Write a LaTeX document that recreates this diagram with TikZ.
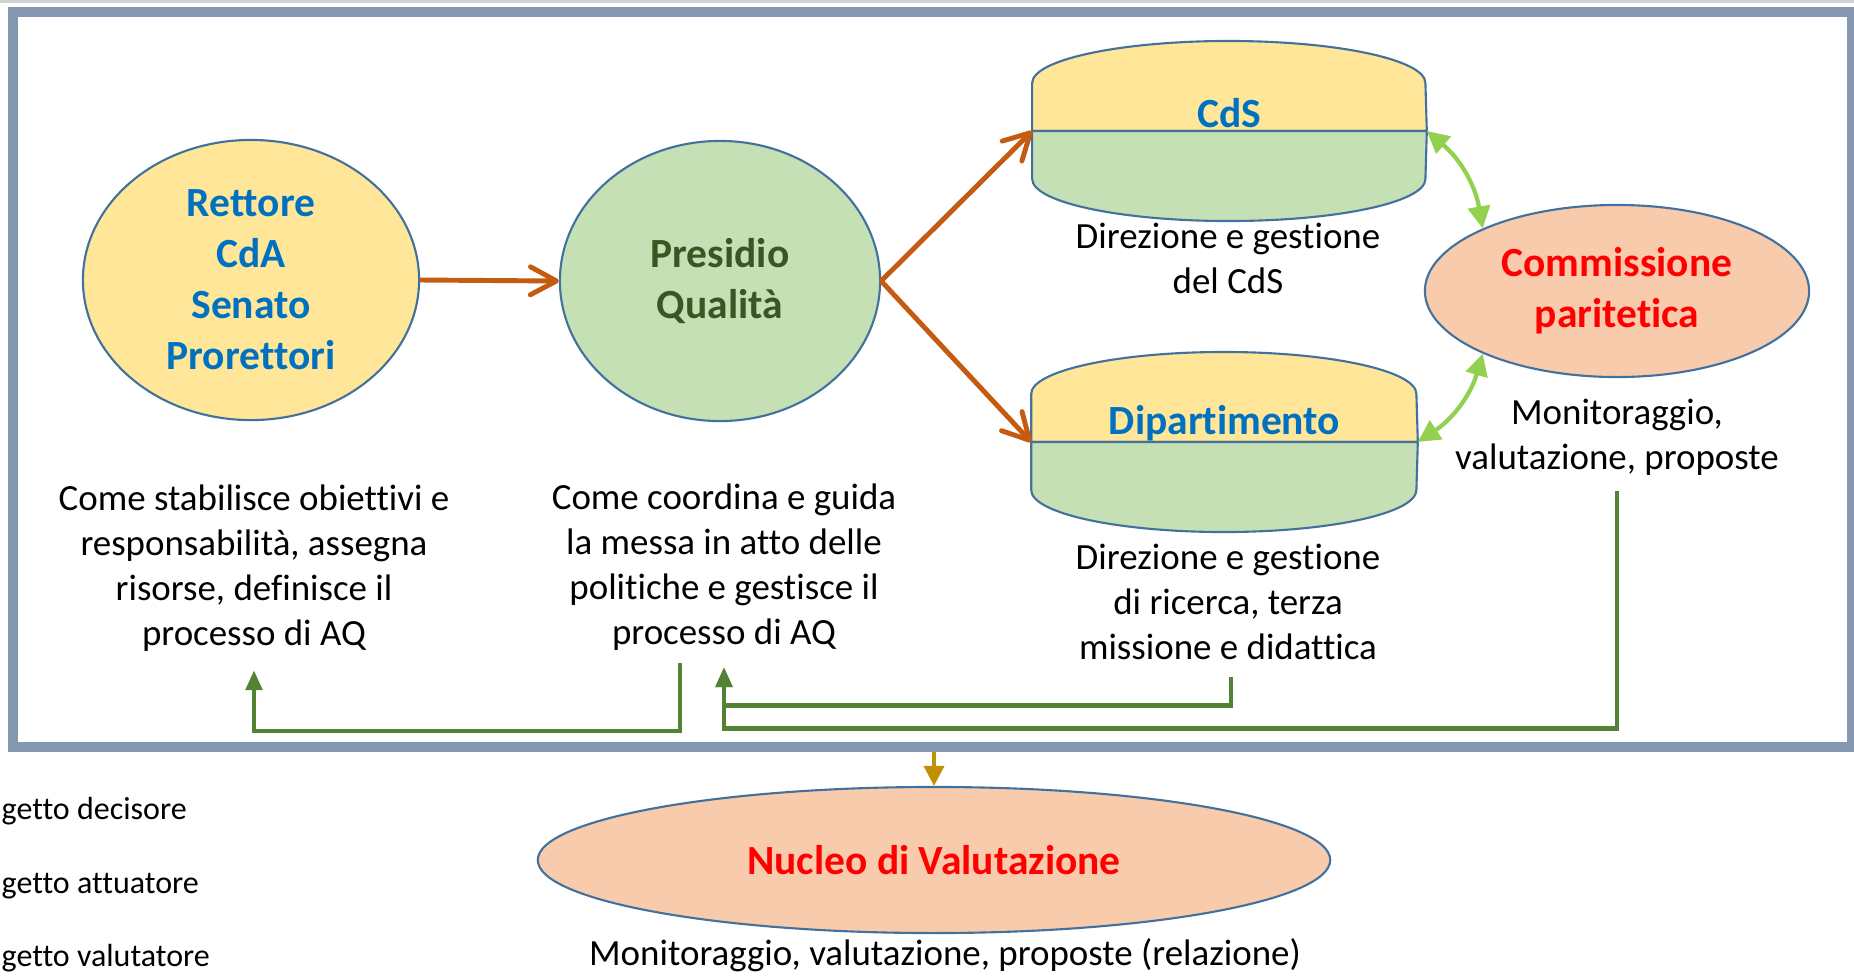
\documentclass[tikz,border=0pt]{standalone}
\usepackage{fontspec}
\setmainfont[Ligatures=NoCommon]{Carlito}
\usepackage{tikz}
\usetikzlibrary{arrows.meta,positioning,shapes.geometric}
\definecolor{frameblue}{HTML}{8497B0}
\definecolor{yellowfill}{HTML}{FFE699}
\definecolor{greenfill}{HTML}{C5E0B4}
\definecolor{peachfill}{HTML}{F8CBAD}
\definecolor{rim}{HTML}{41719C}
\definecolor{inkblue}{HTML}{0070C0}
\definecolor{inkgreen}{HTML}{385723}
\definecolor{inkred}{HTML}{FF0000}
\definecolor{rust}{HTML}{C55A11}
\definecolor{leaf}{HTML}{92D050}
\definecolor{moss}{HTML}{548235}
\definecolor{ochre}{HTML}{BF9000}

\begin{document}
\begin{tikzpicture}[x=0.01cm, y=-0.01cm, every node/.style={font=\fontsize{10.5}{12.8}\selectfont, inner sep=0pt}, blob/.style={ellipse, draw=rim, line width=0.6pt, align=center, font=\bfseries\fontsize{11.8}{14.5}\selectfont}, hull/.style={rectangle, minimum height=1.8cm}, can/.style={draw=rim, line width=0.6pt}, title/.style={anchor=base, text=inkblue, font=\bfseries\fontsize{11.8}{14.5}\selectfont}, note/.style={align=center}, legendtxt/.style={anchor=west, font=\fontsize{9.1}{11}\selectfont}, push/.style={-{Straight Barb[length=2.6mm,width=2.8mm,round]}, line width=1.4pt, rust}, talk/.style={{Triangle[length=2.2mm,width=2.2mm]}-{Triangle[length=2.2mm,width=2.2mm]}, line width=1.2pt, leaf}, feedback/.style={-{Triangle[length=2mm,width=1.6mm]}, line width=1.4pt, moss}]
\useasboundingbox (0,0) rectangle (1854,975);
\draw[black!18, line width=0.03cm] (0,1.5) -- (1854,1.5);
\node[draw=frameblue, line width=0.1cm, minimum width=18.37cm, minimum height=7.35cm] (frame) at (932.5,379.5) {};

\node[blob, fill=yellowfill, text=inkblue, minimum width=3.36cm, minimum height=2.8cm] (rett) at (251,280) {Rettore\\CdA\\Senato\\Prorettori};
\node[blob, fill=greenfill, text=inkgreen, minimum width=3.2cm, minimum height=2.8cm] (pq) at (720,281) {Presidio\\Qualità};
\node[blob, fill=peachfill, text=inkred, minimum width=3.84cm, minimum height=1.72cm] (cp) at (1617,291) {Commissione\\paritetica};
\node[blob, fill=peachfill, text=inkred, minimum width=7.92cm, minimum height=1.46cm] (nv) at (934,860) {Nucleo di Valutazione};

\node[hull, minimum width=3.93cm] (cds) at (1229.5,131) {};
\filldraw[can, fill=yellowfill] (cds.west) -- ++(0,-48) arc[start angle=180, end angle=0, x radius=1.965cm, y radius=0.42cm] -- (cds.east) -- cycle;
\filldraw[can, fill=greenfill] (cds.west) -- ++(0,48) arc[start angle=180, end angle=360, x radius=1.965cm, y radius=0.42cm] -- (cds.east) -- cycle;
\node[title] (cdsname) at ([yshift=1pt]cds.center) {CdS};

\node[hull, minimum width=3.85cm] (dip) at (1224.5,442) {};
\filldraw[can, fill=yellowfill] (dip.west) -- ++(0,-48) arc[start angle=180, end angle=0, x radius=1.925cm, y radius=0.42cm] -- (dip.east) -- cycle;
\filldraw[can, fill=greenfill] (dip.west) -- ++(0,48) arc[start angle=180, end angle=360, x radius=1.925cm, y radius=0.42cm] -- (dip.east) -- cycle;
\node[title] (dipname) at ([yshift=2.2pt]dip.center) {Dipartimento};

\node[note] (retttxt) at (254,568) {Come stabilisce obiettivi e\\responsabilità, assegna\\risorse, definisce il\\processo di AQ};
\node[note] (pqtxt) at (724,567) {Come coordina e guida\\la messa in atto delle\\politiche e gestisce il\\processo di AQ};
\node[note] (cdstxt) at (1228,258) {Direzione e gestione\\del CdS};
\node[note] (diptxt) at (1228,602) {Direzione e gestione\\di ricerca, terza\\missione e didattica};
\node[note] (cptxt) at (1617,437) {Monitoraggio,\\valutazione, proposte};
\node[note] (nvtxt) at (945,955) {Monitoraggio, valutazione, proposte (relazione)};

\node[legendtxt] (dec) at (1,811) {getto decisore};
\node[legendtxt] (att) at (1,886) {getto attuatore};
\node[legendtxt] (val) at (1,958) {getto valutatore};

\draw[push] (rett.east) -- (pq.west);
\draw[push] (pq.east) -- (cds.west);
\draw[push] (pq.east) -- (dip.west);
\draw[talk] (cds.east) to[bend left=20] (cp.155);
\draw[talk] (dip.east) to[bend right=20] (cp.205);
\draw[feedback] ([xshift=-0.44cm, yshift=-0.12cm]pqtxt.south) -- ++(0,68) -| ([yshift=-0.18cm]retttxt.south);
\draw[feedback] ([xshift=0.03cm, yshift=-0.16cm]diptxt.south) -- ++(0,29) -| ([yshift=-0.16cm]pqtxt.south);
\draw[feedback] ([yshift=-0.15cm]cptxt.south) -- ++(0,238) -| ([yshift=-0.16cm]pqtxt.south);
\draw[-{Triangle[length=2mm,width=2mm]}, line width=1pt, ochre] (frame.south -| nv.north) -- (nv.north);
\end{tikzpicture}
\end{document}
